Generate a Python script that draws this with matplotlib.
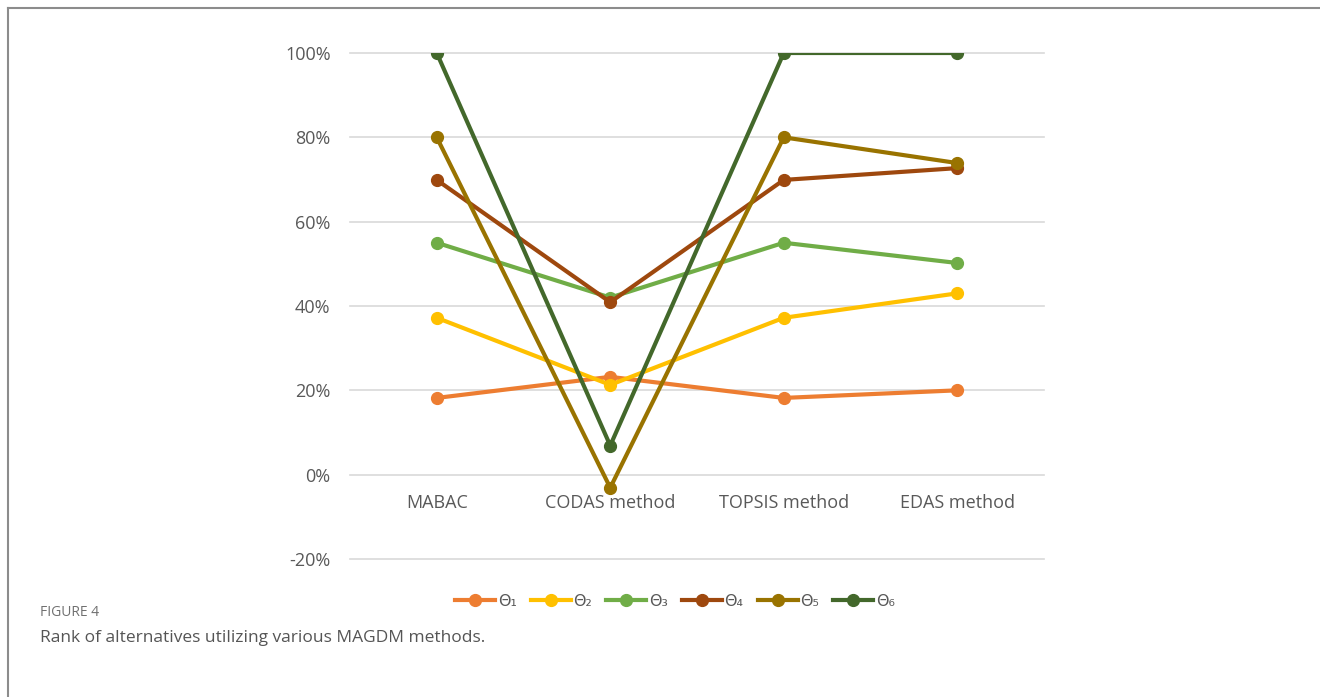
import matplotlib.pyplot as plt
from matplotlib.lines import Line2D
from matplotlib.ticker import FuncFormatter

# ranking scores (%) of each alternative under the four methods
methods = ["MABAC", "CODAS method", "TOPSIS method", "EDAS method"]
theta1 = [18.2, 23.2, 18.2, 20.0]
theta2 = [37.2, 21.3, 37.2, 43.0]
theta3 = [55.0, 42.0, 55.0, 50.2]
theta4 = [69.9, 40.9, 69.9, 72.7]
theta5 = [80.0, -3.1, 80.0, 73.9]
theta6 = [100.0, 6.9, 100.0, 100.0]
names = ["Θ₁", "Θ₂", "Θ₃", "Θ₄", "Θ₅", "Θ₆"]
yticks = [-20, 0, 20, 40, 60, 80, 100]

series = [theta1, theta2, theta3, theta4, theta5, theta6]
colors = ["#ED7D31", "#FFC000", "#70AD47", "#9E480E", "#997300", "#43682B"]

plt.rcParams['font.family'] = ['Open Sans', 'DejaVu Sans']

W, H = 1320, 697
fig = plt.figure(figsize=(W / 100, H / 100), dpi=100)
# axes box in pixels: x -0.5..3.5 -> 350..1044, y -20..100 -> 559..53
ax = fig.add_axes([350 / W, 1 - 559 / H, (1044 - 350) / W, (559 - 53) / H])

for s, c, n in zip(series, colors, names):
    ax.plot(range(len(methods)), s, color=c, lw=3, marker='o', ms=8.5, label=n)

ax.set_xlim(-0.5, 3.5)
ax.set_ylim(-20, 100)
ax.set_yticks(yticks)
ax.yaxis.set_major_formatter(FuncFormatter(lambda v, p: f"{v:.0f}%"))
for y in yticks:
    ax.axhline(y, color="#D9D9D9", lw=1.2, zorder=0, clip_on=False)
# category labels sit just under the zero line
ax.spines['bottom'].set_position(('data', 0))
ax.set_xticks(range(len(methods)))
ax.set_xticklabels(methods)
ax.tick_params(length=0, labelsize=13, colors="#595959")
ax.tick_params(axis='y', pad=14)
ax.tick_params(axis='x', pad=14)
for sp in ax.spines.values():
    sp.set_visible(False)

leg = fig.legend(loc='center', bbox_to_anchor=(675 / W, 1 - 601 / H), ncol=6,
                 frameon=False, handlelength=2.5, columnspacing=0.9,
                 handletextpad=0.15, prop={'family': ['DejaVu Sans'], 'size': 11.5})
for t in leg.get_texts():
    t.set_color("#595959")

# panel frame and caption
fig.add_artist(Line2D([8 / W, 1], [1 - 8 / H, 1 - 8 / H], color="#8C8C8C", lw=1.5))
fig.add_artist(Line2D([8 / W, 8 / W], [0, 1 - 8 / H], color="#8C8C8C", lw=1.5))
fig.text(40 / W, 1 - 613 / H, "FIGURE 4", fontsize=10, color="#707070",
         family="Open Sans", va='center')
fig.text(40 / W, 1 - 638 / H, "Rank of alternatives utilizing various MAGDM methods.",
         fontsize=12.5, color="#555555", family="Open Sans", va='center')

fig.savefig("out.png", dpi=100)
